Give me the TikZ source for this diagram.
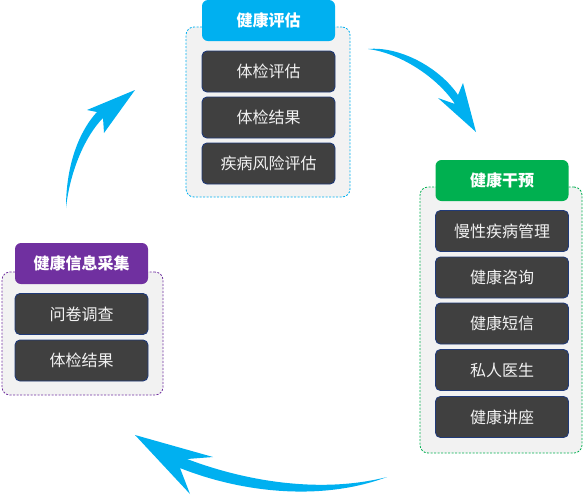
\documentclass[tikz,border=0pt]{standalone}
\usepackage{fontspec}
\newfontfamily\cjk{Noto Sans CJK SC}
\definecolor{cblue}{HTML}{00B0F0}
\definecolor{cgreen}{HTML}{00B050}
\definecolor{cpurple}{HTML}{7030A0}
\definecolor{itemfill}{HTML}{404040}
\definecolor{itemborder}{HTML}{203A78}
\definecolor{boxfill}{HTML}{F2F2F2}
\tikzset{
  item/.style={draw=itemborder, fill=itemfill, rounded corners=5pt, minimum width=133pt, minimum height=41pt,
    text=white!95!black, font=\cjk\fontsize{16}{16}\selectfont, inner sep=0pt, line width=0.9pt},
  header/.style={fill=#1, rounded corners=6pt, minimum width=133pt, minimum height=41pt,
    text=white, font=\cjk\bfseries\fontsize{16}{16}\selectfont, inner sep=0pt},
  container/.style={draw=#1, fill=boxfill, rounded corners=8pt, line width=0.8pt,
    dash pattern=on 2pt off 1.5pt, inner sep=0pt},
  bigarrow/.style={fill=cblue, draw=none}
}
\begin{document}
\begin{tikzpicture}[x=1pt,y=-1pt]
\useasboundingbox (0,0) rectangle (583,496);
% top group
\node[container=cblue, minimum width=164pt, minimum height=170pt] (c1) at (268,112) {};
\node[header=cblue] (h1) at (268.5,20.5) {健康评估};
\node[item] (a1) at (268.5,71.5) {体检评估};
\node[item] (a2) at (268.5,117.5) {体检结果};
\node[item] (a3) at (268.5,163.5) {疾病风险评估};
% left group
\node[container=cpurple, minimum width=161pt, minimum height=123pt] (c2) at (82.5,333.5) {};
\node[header=cpurple] (h2) at (81.5,263.5) {健康信息采集};
\node[item] (b1) at (81.5,314) {问卷调查};
\node[item] (b2) at (81.5,360.5) {体检结果};
% right group
\node[container=cgreen, minimum width=162pt, minimum height=266pt] (c3) at (501,320) {};
\node[header=cgreen] (h3) at (502,180.5) {健康干预};
\node[item] (d1) at (502,231) {慢性疾病管理};
\node[item] (d2) at (502,277.5) {健康咨询};
\node[item] (d3) at (502,323.5) {健康短信};
\node[item] (d4) at (502,370) {私人医生};
\node[item] (d5) at (502,417) {健康讲座};
% arrow top-right
\fill[bigarrow] (368,49) .. controls (400,46) and (440,68) .. (458,95)
  -- (463,83) -- (476,132) -- (438,98) -- (455,104)
  .. controls (437,77) and (400,53) .. (368,49) -- cycle;
% arrow left
\fill[bigarrow] (66,208) .. controls (66,160) and (82,128) .. (97,112)
  -- (87,110) -- (135,90) -- (104,133) -- (103,118)
  .. controls (86,135) and (70,170) .. (66,208) -- cycle;
% arrow bottom
\fill[bigarrow] (387,477) .. controls (320,494) and (245,481) .. (187,459)
  -- (213,457) -- (135,435) -- (190,494) -- (180,468)
  .. controls (240,492) and (320,502) .. (387,477) -- cycle;
\end{tikzpicture}
\end{document}
